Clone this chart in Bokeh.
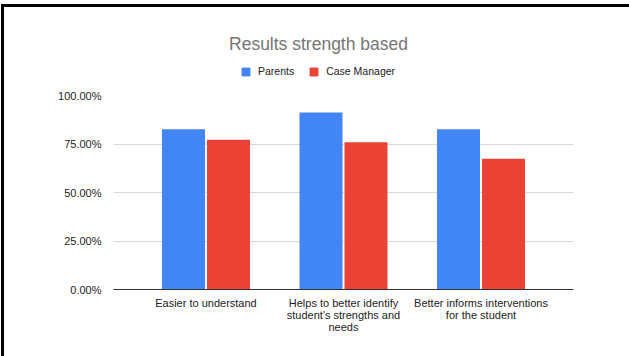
from bokeh.plotting import figure
from bokeh.layouts import column, row
from bokeh.models import (ColumnDataSource, FactorRange, Legend, LegendItem, Label,
                          NumeralTickFormatter, FixedTicker, Range1d, Div)
from bokeh.transform import dodge
from bokeh.embed import file_html
from bokeh.resources import INLINE

categories = ["Easier to understand",
              "Helps to better identify\nstudent's strengths and\nneeds",
              "Better informs interventions\nfor the student"]
parents = [0.826, 0.913, 0.826]
case_manager = [0.772, 0.759, 0.674]
y_ticks = [0.0, 0.25, 0.5, 0.75, 1.0]
series_names = ["Parents", "Case Manager"]
series_colors = ["#4285F4", "#EA4335"]
title_text = "Results strength based"

FONT = "Liberation Sans"
W = 625
H = 349
HEAD_H = 80
FRAME_L, FRAME_R = 113, 573   # window x of the plotting area (shared by both plots)

# ---- header: title + legend (its frame is aligned with the chart frame) ----
head = figure(width=W, height=HEAD_H, x_range=Range1d(FRAME_L, FRAME_R),
              y_range=Range1d(0, HEAD_H),
              x_axis_type=None, y_axis_type=None, output_backend="svg",
              toolbar_location=None, min_border=0)
head.outline_line_color = None
head.xgrid.grid_line_color = None
head.ygrid.grid_line_color = None
head.add_layout(Label(x=318, y=44, text=title_text, text_font=FONT,
                      text_font_size="17.5px", text_color="#757575",
                      text_align="center", text_baseline="middle"))
nan = float("nan")
d1 = head.vbar(x=[nan], top=[nan], width=1, fill_color=series_colors[0], line_color=None)
d2 = head.vbar(x=[nan], top=[nan], width=1, fill_color=series_colors[1], line_color=None)
legend = Legend(items=[LegendItem(label=series_names[0], renderers=[d1]),
                       LegendItem(label=series_names[1], renderers=[d2])],
                orientation="horizontal", location=(240 - FRAME_L, 10),
                border_line_color=None, background_fill_alpha=0,
                padding=0, margin=0, spacing=14, label_standoff=7,
                glyph_width=11, glyph_height=11,
                label_text_font=FONT, label_text_font_size="10.5px",
                label_text_color="#222222")
head.add_layout(legend)

# ---- main chart ----
src = ColumnDataSource(dict(cat=categories, parents=parents, case_manager=case_manager))

p = figure(width=W, height=H - HEAD_H,
           x_range=FactorRange(*categories, range_padding=0.115),
           y_range=(0, 1),
           output_backend="svg", toolbar_location=None,
           min_border_left=109, min_border_right=56,
           min_border_top=8, min_border_bottom=67)
p.outline_line_color = None

p.vbar(x=dodge("cat", -0.1636, range=p.x_range), top="parents", width=0.3127,
       source=src, fill_color=series_colors[0], line_color=None)
p.vbar(x=dodge("cat", 0.1636, range=p.x_range), top="case_manager", width=0.3127,
       source=src, fill_color=series_colors[1], line_color=None)

p.yaxis.ticker = FixedTicker(ticks=y_ticks)
p.yaxis.formatter = NumeralTickFormatter(format="0.00%")
p.yaxis.axis_line_color = None
p.yaxis.major_tick_line_color = None
p.yaxis.minor_tick_line_color = None
p.yaxis.major_label_text_font = FONT
p.yaxis.major_label_text_font_size = "11px"
p.yaxis.major_label_text_color = "#222222"
p.yaxis.major_label_standoff = 6

p.xaxis.axis_line_color = "#333333"
p.xaxis.axis_line_width = 1
p.xaxis.major_tick_line_color = None
p.xaxis.minor_tick_line_color = None
p.xaxis.major_label_text_font = FONT
p.xaxis.major_label_text_font_size = "11px"
p.xaxis.major_label_text_color = "#222222"
p.xaxis.major_label_text_line_height = 1.0
p.xaxis.major_label_standoff = 1

p.xgrid.grid_line_color = None
p.ygrid.grid_line_color = "#d9d9d9"
p.ygrid.grid_line_width = 1

# left frame line of the screenshot border
left_line = Div(text="", width=3, height=H, margin=0,
                styles={"background-color": "black"})

layout = row(left_line, column(head, p, spacing=0), spacing=0)
layout.styles = {"border-top": "3px solid black",
                 "margin-top": "4px", "margin-left": "1px"}

open("out.html", "w").write(file_html(layout, INLINE))
